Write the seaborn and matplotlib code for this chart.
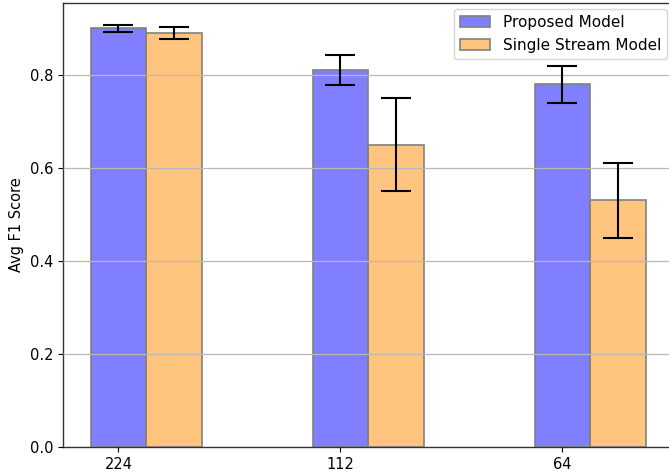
import seaborn as sns
import pandas as pd
import matplotlib
matplotlib.use("Agg")
import matplotlib.pyplot as plt

resolutions = ["224", "112", "64"]
models = ["Proposed Model", "Single Stream Model"]
proposed_f1 = [0.90, 0.81, 0.78]
proposed_err = [0.008, 0.032, 0.04]
single_f1 = [0.89, 0.65, 0.53]
single_err = [0.013, 0.10, 0.08]

df = pd.DataFrame({
    "res": resolutions * 2,
    "model": [models[0]] * 3 + [models[1]] * 3,
    "f1": proposed_f1 + single_f1,
    "err": proposed_err + single_err,
})

plt.rcParams["font.family"] = ["DejaVu Sans"]
plt.rcParams["font.size"] = 10.5

fig = plt.figure(figsize=(6.69, 4.74), dpi=100)
ax = fig.add_axes([0.094, 0.057, 0.93, 0.937])

sns.barplot(data=df, x="res", y="f1", hue="model", order=resolutions,
            hue_order=models, palette=["blue", "darkorange"], saturation=1,
            width=0.5, alpha=0.5, linewidth=1.2, errorbar=None, ax=ax)


def gray_edge(p):
    # translucent face, solid mid-gray edge
    fc = p.get_facecolor()
    p.set_alpha(None)
    p.set_facecolor(fc)
    p.set_edgecolor("#808080")


for cont in ax.containers:
    for p in cont.patches:
        gray_edge(p)

# grid drawn above the translucent bars
ax.set_axisbelow(False)
ax.yaxis.grid(True, color="#b8b8b8", linewidth=0.9)

# error bars on top of each bar
for cont, m in zip(ax.containers, models):
    sub = df[df["model"] == m]
    xs = [p.get_x() + p.get_width() / 2 for p in cont.patches]
    ax.errorbar(xs, sub["f1"], yerr=sub["err"], fmt="none", ecolor="black",
                elinewidth=1.5, capsize=11, capthick=1.5, zorder=3)

ax.set_xticks([i - 0.125 for i in range(3)])
ax.set_xticklabels(resolutions)
ax.set_xlim(-0.375, 2.427)
ax.set_ylim(0, 0.955)
ax.set_yticks([0.0, 0.2, 0.4, 0.6, 0.8])
ax.set_xlabel("")
ax.set_ylabel("Avg F1 Score")
ax.tick_params(axis="both", direction="out", length=3.5, width=0.8,
               labelsize=10.5, colors="black")
for s in ax.spines.values():
    s.set_color("#333333")
    s.set_linewidth(1.0)

leg = ax.legend(loc="upper right", bbox_to_anchor=(667 / 669, 1 - 9 / 474),
                bbox_transform=fig.transFigure, borderaxespad=0, frameon=True,
                fontsize=11)
for h in leg.legend_handles:
    gray_edge(h)

fig.savefig("out.png", dpi=100)
